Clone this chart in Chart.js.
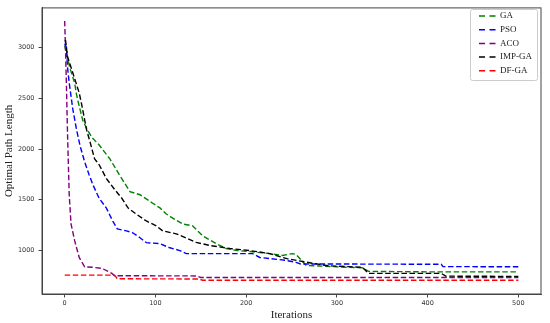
<!DOCTYPE html>
<html>
<head>
<meta charset="utf-8">
<script src="https://cdn.jsdelivr.net/npm/chart.js@4/dist/chart.umd.min.js"></script>
<style>
  html, body { margin: 0; padding: 0; background: #ffffff; }
  #c { display: block; }
</style>
</head>
<body>
<canvas id="c" width="550" height="323"></canvas>
<script>
// ---- data ----
const seriesNames = ['GA', 'PSO', 'ACO', 'IMP-GA', 'DF-GA'];

const gaX = [0, 3, 6, 11, 13, 15, 20, 25, 30, 38, 44, 50, 60, 72, 83, 97, 105, 112, 119, 130, 141, 152, 167, 178, 190, 204, 226, 240, 251, 255, 266, 280, 300, 328, 335, 400, 500];
const gaY = [3020, 2900, 2790, 2650, 2540, 2460, 2280, 2190, 2115, 2040, 1970, 1900, 1750, 1580, 1550, 1466, 1420, 1360, 1320, 1262, 1243, 1146, 1068, 1020, 1000, 990, 970, 952, 970, 962, 855, 848, 840, 830, 795, 790, 790];

const psoX = [0, 2, 3, 5, 9, 13, 17, 22, 27, 31, 38, 46, 53, 58, 68, 75, 83, 90, 105, 115, 127, 134, 207, 215, 244, 255, 260, 415, 417, 500];
const psoY = [3040, 3000, 2815, 2650, 2390, 2195, 2030, 1874, 1745, 1650, 1515, 1418, 1290, 1213, 1194, 1175, 1126, 1078, 1068, 1030, 1000, 970, 970, 932, 903, 884, 868, 865, 842, 840];

const acoX = [0, 1, 2, 3, 4, 5, 7, 11, 16, 22, 31, 41, 52, 55, 145, 150, 500];
const acoY = [3262, 2950, 2600, 2200, 1870, 1550, 1262, 1097, 932, 840, 835, 825, 775, 752, 750, 735, 735];

const impX = [0, 1, 3, 8, 16, 19, 24, 28, 30, 33, 38, 46, 55, 63, 70, 79, 90, 101, 108, 123, 145, 160, 182, 204, 226, 245, 270, 290, 328, 335, 415, 420, 500];
const impY = [3070, 3068, 2913, 2777, 2553, 2427, 2194, 2068, 2000, 1903, 1845, 1709, 1602, 1515, 1418, 1359, 1291, 1243, 1194, 1165, 1080, 1050, 1020, 1000, 970, 920, 880, 850, 835, 775, 775, 748, 745];

const dfX = [0, 55, 58, 148, 152, 500];
const dfY = [758, 758, 722, 720, 708, 708];

const xTicks = [0, 100, 200, 300, 400, 500];
const yTicks = [1000, 1500, 2000, 2500, 3000];

// ---- styling ----
const colors = ['#008000', '#0000ff', '#800080', '#000000', '#ff0000'];
const xs = [gaX, psoX, acoX, impX, dfX];
const ys = [gaY, psoY, acoY, impY, dfY];
const AXIS = '#444444';

const datasets = seriesNames.map((name, k) => ({
  label: name,
  data: xs[k].map((x, i) => ({ x: x, y: ys[k][i] })),
  borderColor: colors[k],
  backgroundColor: colors[k],
  borderWidth: 1.4,
  borderDash: [5.5, 2.6],
  pointRadius: 0,
  tension: 0,
  fill: false,
  order: seriesNames.length - k
}));

const framePlugin = {
  id: 'frame',
  afterLayout(chart) {
    const lg = chart.legend;
    if (!lg) return;
    const h = lg.height;
    lg.left = 468.3;
    lg.top = 6.8;
    lg.right = lg.left + lg.width;
    lg.bottom = lg.top + h;
  },
  afterDraw(chart) {
    const ctx = chart.ctx;
    const a = chart.chartArea;
    ctx.save();
    // full spine box
    ctx.strokeStyle = AXIS;
    ctx.lineWidth = 1;
    ctx.setLineDash([]);
    ctx.strokeRect(a.left, a.top, a.right - a.left, a.bottom - a.top);
    // legend frame
    ctx.strokeStyle = '#cccccc';
    ctx.beginPath();
    if (ctx.roundRect) {
      ctx.roundRect(470.5, 9.5, 67, 71, 2);
    } else {
      ctx.rect(470.5, 9.5, 67, 71);
    }
    ctx.stroke();
    ctx.restore();
  }
};

new Chart(document.getElementById('c'), {
  type: 'line',
  data: { datasets: datasets },
  plugins: [framePlugin],
  options: {
    responsive: false,
    animation: false,
    devicePixelRatio: 1,
    layout: { padding: { top: 5, right: 9, left: 0, bottom: 0 } },
    plugins: {
      tooltip: { enabled: false },
      legend: {
        position: 'chartArea',
        align: 'start',
        labels: {
          usePointStyle: true,
          pointStyle: 'line',
          boxWidth: 22.5,
          pointStyleWidth: 22.5,
          padding: 4.7,
          color: '#222222',
          font: { family: 'Liberation Serif', size: 9 },
          generateLabels(chart) {
            return chart.data.datasets.map((ds, i) => ({
              text: ds.label,
              fillStyle: ds.borderColor,
              strokeStyle: ds.borderColor,
              fontColor: '#222222',
              lineWidth: 1.5,
              lineDash: [6, 4.5, 6, 6],
              lineDashOffset: 16.5,
              lineCap: 'butt',
              pointStyle: 'line',
              rotation: 0,
              hidden: false,
              datasetIndex: i
            }));
          }
        }
      }
    },
    scales: {
      x: {
        type: 'linear',
        min: -25,
        max: 525,
        afterBuildTicks(scale) { scale.ticks = xTicks.map(v => ({ value: v })); },
        afterFit(scale) { scale.height = 29; },
        grid: { display: true, drawOnChartArea: false, drawTicks: true, tickLength: 3.5, color: AXIS },
        border: { display: true, color: AXIS },
        ticks: {
          padding: 2,
          color: '#333333',
          font: { family: 'DejaVu Sans', size: 6.5 },
          maxRotation: 0,
          callback: v => String(v)
        },
        title: {
          display: true,
          text: 'Iterations',
          color: '#222222',
          font: { family: 'Liberation Serif', size: 11 },
          padding: { top: 0, bottom: 1.4 }
        }
      },
      y: {
        type: 'linear',
        min: 572,
        max: 3390,
        afterBuildTicks(scale) { scale.ticks = yTicks.map(v => ({ value: v })); },
        afterFit(scale) { scale.width = 42; },
        grid: { display: true, drawOnChartArea: false, drawTicks: true, tickLength: 3.5, color: AXIS },
        border: { display: true, color: AXIS },
        ticks: {
          padding: 4,
          color: '#333333',
          font: { family: 'DejaVu Sans', size: 6.5 },
          callback: v => String(v)
        },
        title: {
          display: true,
          text: 'Optimal Path Length',
          color: '#222222',
          font: { family: 'Liberation Serif', size: 11 },
          padding: { top: 2.4, bottom: 0 }
        }
      }
    }
  }
});
</script>
</body>
</html>
